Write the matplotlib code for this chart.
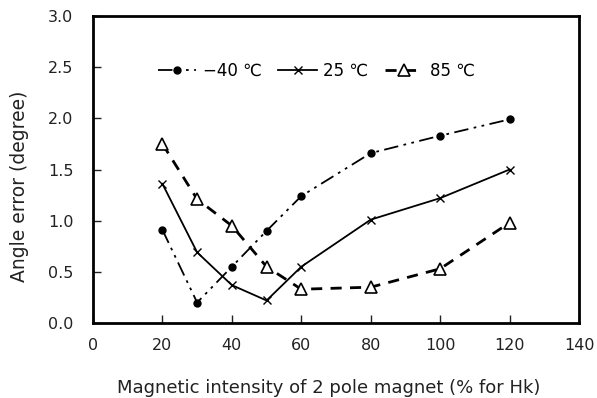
import numpy as np
import matplotlib.pyplot as plt

plt.rcParams['font.family'] = ['DejaVu Sans', 'Noto Sans CJK JP']

# Magnetic intensity (% for Hk)
x = [20, 30, 40, 50, 60, 80, 100, 120]
# Angle error (degree)
err_m40 = [0.91, 0.20, 0.55, 0.90, 1.24, 1.66, 1.83, 1.99]
err_25 = [1.36, 0.69, 0.37, 0.22, 0.55, 1.01, 1.22, 1.50]
err_85 = [1.75, 1.21, 0.95, 0.55, 0.33, 0.35, 0.53, 0.98]
labels = ['\u221240 \u2103', '25 \u2103', '85 \u2103']

fig = plt.figure(figsize=(5.97, 3.98), dpi=100)
ax = fig.add_axes([93 / 597, 75 / 398, 486 / 597, 307 / 398])

ax.plot(x, err_m40, color='black', lw=1.3, dashes=(8, 3, 1.5, 3, 1.5, 3),
        marker='o', ms=5, label=labels[0])
ax.plot(x, err_25, color='black', lw=1.3, linestyle='-',
        marker='x', ms=6, mew=1.0, label=labels[1])
ax.plot(x, err_85, color='black', lw=2.0, dashes=(4, 3),
        marker='^', ms=9, mfc='white', mec='black', mew=1.2, label=labels[2])

ax.set_xlim(0, 140)
ax.set_ylim(0, 3.0)
ax.set_xticks(np.arange(0, 141, 20))
ax.set_yticks(np.arange(0, 3.01, 0.5))
ax.set_yticklabels(['%.1f' % v for v in np.arange(0, 3.01, 0.5)])
ax.tick_params(direction='in', length=6, width=1, labelsize=11.5, colors='#222222')
ax.tick_params(axis='y', pad=14)
ax.tick_params(axis='x', pad=11)
for s in ax.spines.values():
    s.set_linewidth(2)

ax.set_xlabel('Magnetic intensity of 2 pole magnet (% for Hk)', fontsize=13,
              color='#222222')
ax.set_ylabel('Angle error (degree)', fontsize=13.5, color='#222222')
ax.xaxis.set_label_coords(0.484, -0.183)
ax.yaxis.set_label_coords(-0.132, 0.446)

ax.legend(loc='upper center', bbox_to_anchor=(0.46, 0.9), ncol=3, frameon=False,
          fontsize=12, handlelength=2.3, columnspacing=1.0, handletextpad=0.4)

fig.savefig('out.png', dpi=100)
